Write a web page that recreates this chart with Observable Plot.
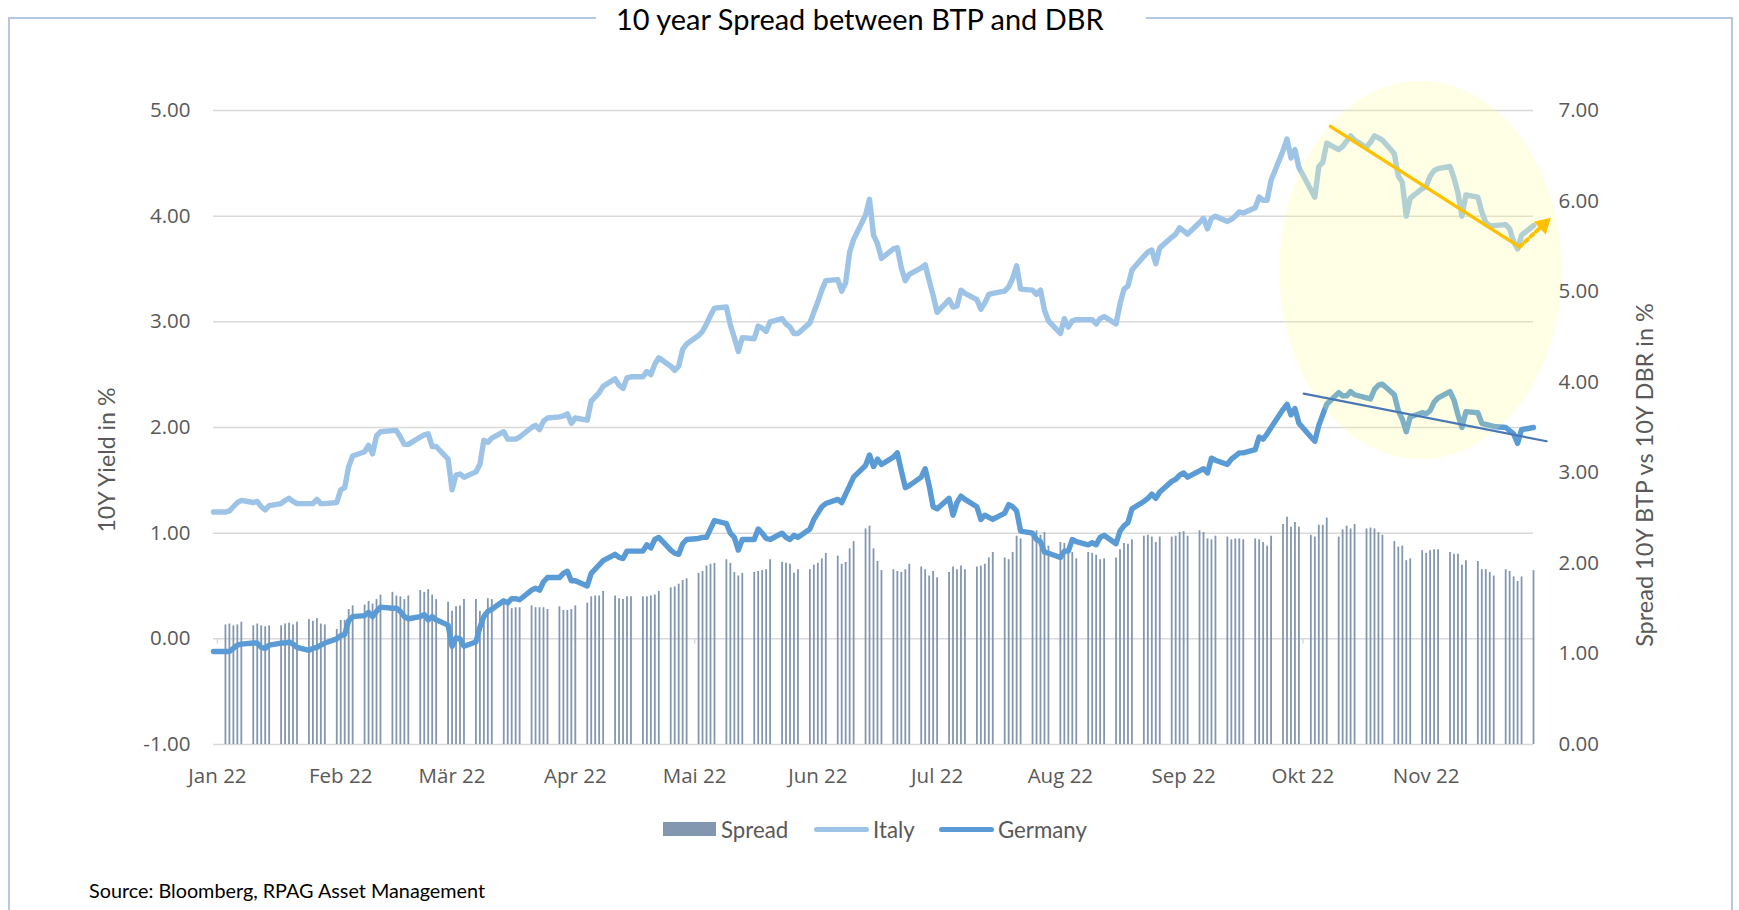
<!DOCTYPE html>
<html>
<head>
<meta charset="utf-8">
<script src="https://cdn.jsdelivr.net/npm/d3@7"></script>
<script src="https://cdn.jsdelivr.net/npm/@observablehq/plot@0.6"></script>
<style>
  html, body { margin: 0; padding: 0; background: #fff; }
  body { width: 1739px; height: 910px; overflow: hidden; position: relative; }
  #frame { position: absolute; left: 8px; top: 17px; width: 1725px; height: 1000px; border: 2px solid #b4c7e7; box-sizing: border-box; }
  #chart { position: absolute; left: 0; top: 0; }
  .txt { position: absolute; white-space: nowrap; font-family: Lato, "Open Sans", sans-serif; }
  #title { color: #000; background: #fff; line-height: 38px; }
  .axt { color: #595959; transform-origin: center center; }
  .leg { color: #595959; }
  .sw { position: absolute; }
</style>
</head>
<body>
<div id="frame"></div>
<div id="chart"></div>
<div id="title" class="txt">10 year Spread between BTP and DBR</div>
<div id="ylabL" class="txt axt">10Y Yield in %</div>
<div id="ylabR" class="txt axt">Spread 10Y BTP vs 10Y DBR in %</div>
<div id="legend"></div>
<div id="source" class="txt">Source: Bloomberg, RPAG Asset Management</div>
<script>
// ---------- data ----------
const monthTicks = ["2022-01-01","2022-02-01","2022-03-01","2022-04-01","2022-05-01","2022-06-01",
                    "2022-07-01","2022-08-01","2022-09-01","2022-10-01","2022-11-01"];
const monthLabels = ["Jan 22","Feb 22","Mär 22","Apr 22","Mai 22","Jun 22","Jul 22","Aug 22","Sep 22","Okt 22","Nov 22"];
const leftTicks = [-1, 0, 1, 2, 3, 4, 5];
const rightTicks = [0, 1, 2, 3, 4, 5, 6, 7];
const seriesNames = ["Spread", "Italy", "Germany"];

// first line point (before the first trading day of bars)
const lineStartDate = "2021-12-31";
const tradingStart = "2022-01-03";
const tradingEnd = "2022-11-28";

// 10Y BTP yield (Italy): 2021-12-31, then every weekday 2022-01-03 .. 2022-11-28
const italy = [1.20,
 1.20,1.21,1.25,1.29,1.31, 1.29,1.30,1.25,1.22,1.26, 1.28,1.31,1.33,1.30,1.28, 1.28,1.28,1.32,1.28,1.28,
 1.29,1.41,1.43,1.63,1.73, 1.77,1.83,1.75,1.92,1.96, 1.97,1.97,1.91,1.84,1.84, 1.91,1.93,1.94,1.82,1.82,
 1.70,1.41,1.55,1.56,1.53, 1.58,1.65,1.88,1.86,1.90, 1.96,1.89,1.89,1.89,1.91, 2.00,2.02,1.98,2.06,2.09,
 2.10,2.11,2.13,2.04,2.09, 2.07,2.25,2.29,2.33,2.39, 2.46,2.40,2.37,2.47,2.48, 2.48,2.53,2.50,2.60,2.66,
 2.58,2.54,2.58,2.74,2.79, 2.87,2.91,2.98,3.06,3.13, 3.14,2.97,2.85,2.72,2.85, 2.84,2.96,2.94,2.91,3.00,
 3.03,2.98,2.95,2.89,2.89, 2.99,3.09,3.19,3.30,3.39, 3.40,3.29,3.37,3.66,3.78, 4.01,4.16,3.82,3.74,3.60,
 3.69,3.70,3.51,3.39,3.45, 3.51,3.54,3.39,3.25,3.09, 3.21,3.14,3.15,3.30,3.27, 3.21,3.12,3.18,3.26,3.27,
 3.29,3.33,3.41,3.53,3.31, 3.30,3.26,3.30,3.11,3.01, 2.89,3.03,2.95,3.01,3.02, 3.02,3.02,2.98,3.03,3.05,
 2.98,3.17,3.31,3.34,3.49, 3.62,3.66,3.68,3.55,3.70, 3.80,3.83,3.89,3.86,3.83, 3.94,3.98,3.88,3.98,4.00,
 3.95,3.97,4.00,4.04,4.03, 4.08,4.18,4.15,4.15,4.34, 4.62,4.73,4.55,4.63,4.46, 4.25,4.18,4.47,4.51,4.69,
 4.63,4.66,4.71,4.76,4.72, 4.65,4.70,4.76,4.74,4.72, 4.59,4.38,4.32,4.00,4.17, 4.26,4.28,4.38,4.43,4.45,
 4.47,4.36,4.22,4.00,4.20, 4.18,4.04,3.94,3.91,3.91, 3.92,3.88,3.76,3.69,3.82,
 3.91];

// 10Y Bund yield (Germany), same dates as italy
const germany = [-0.12,
 -0.12,-0.12,-0.09,-0.06,-0.05, -0.04,-0.04,-0.08,-0.09,-0.06, -0.04,-0.04,-0.03,-0.05,-0.08, -0.11,-0.09,-0.08,-0.06,-0.04,
 0.00,0.03,0.04,0.17,0.21, 0.22,0.25,0.21,0.26,0.30, 0.29,0.29,0.26,0.21,0.19, 0.21,0.23,0.18,0.21,0.18,
 0.13,-0.07,0.01,0.00,-0.07, -0.03,0.11,0.21,0.26,0.28, 0.36,0.34,0.38,0.38,0.37, 0.46,0.48,0.46,0.54,0.58,
 0.58,0.62,0.64,0.55,0.55, 0.50,0.62,0.66,0.70,0.74, 0.80,0.77,0.76,0.83,0.83, 0.83,0.89,0.86,0.94,0.96,
 0.84,0.81,0.80,0.90,0.94, 0.95,0.96,0.96,1.04,1.12, 1.09,1.00,0.96,0.84,0.94, 0.94,1.04,1.00,0.95,0.94,
 1.00,0.96,0.94,0.98,0.96, 1.04,1.13,1.19,1.25,1.28, 1.32,1.29,1.37,1.45,1.53, 1.64,1.74,1.63,1.70,1.65,
 1.72,1.76,1.59,1.43,1.45, 1.53,1.61,1.45,1.25,1.23, 1.33,1.17,1.29,1.35,1.32, 1.25,1.13,1.17,1.15,1.13,
 1.19,1.27,1.25,1.21,1.02, 1.00,0.94,0.92,0.82,0.81, 0.77,0.83,0.83,0.94,0.92, 0.89,0.91,0.89,0.96,0.98,
 0.90,1.02,1.07,1.10,1.23, 1.30,1.33,1.37,1.33,1.39, 1.49,1.51,1.55,1.57,1.53, 1.59,1.61,1.57,1.71,1.69,
 1.65,1.70,1.73,1.76,1.76, 1.79,1.91,1.89,1.94,2.00, 2.17,2.22,2.12,2.18,2.04, 1.91,1.87,2.02,2.12,2.22,
 2.33,2.30,2.30,2.34,2.31, 2.28,2.27,2.36,2.40,2.41, 2.31,2.16,2.08,1.96,2.10, 2.14,2.13,2.16,2.24,2.28,
 2.34,2.26,2.12,2.00,2.15, 2.14,2.04,2.03,2.02,2.01, 2.00,1.97,1.94,1.85,1.98,
 2.00];

// Spread BTP - Bund (right axis), every weekday 2022-01-03 .. 2022-11-28
const spread = [
 1.32,1.33,1.31,1.32,1.35, 1.31,1.33,1.31,1.30,1.31, 1.31,1.33,1.34,1.32,1.35, 1.38,1.36,1.39,1.33,1.32,
 1.27,1.37,1.37,1.49,1.53, 1.54,1.58,1.55,1.60,1.65, 1.68,1.64,1.63,1.60,1.64, 1.70,1.68,1.71,1.65,1.60,
 1.57,1.47,1.52,1.53,1.60, 1.60,1.47,1.45,1.61,1.60, 1.60,1.56,1.50,1.51,1.51, 1.53,1.51,1.51,1.51,1.49,
 1.52,1.48,1.48,1.49,1.53, 1.56,1.63,1.64,1.64,1.69, 1.64,1.61,1.60,1.63,1.63, 1.63,1.63,1.64,1.65,1.69,
 1.73,1.74,1.77,1.81,1.83, 1.89,1.91,1.97,1.99,2.00, 2.04,2.00,1.90,1.86,1.89, 1.90,1.91,1.92,1.93,2.04,
 2.01,2.00,1.99,1.89,1.93, 1.93,1.98,2.00,2.05,2.11, 2.08,1.99,2.01,2.16,2.24, 2.38,2.41,2.16,2.02,1.92,
 1.93,1.91,1.90,1.93,1.99, 1.96,1.93,1.86,1.91,1.84, 1.90,1.96,1.93,1.97,1.93, 1.96,1.97,1.99,2.06,2.12,
 2.06,2.04,2.12,2.30,2.27, 2.34,2.36,2.31,2.34,2.19, 2.23,2.22,2.19,2.12,2.05, 2.12,2.11,2.09,2.04,2.05,
 2.06,2.15,2.22,2.21,2.26, 2.30,2.31,2.29,2.23,2.29, 2.29,2.30,2.34,2.35,2.30, 2.36,2.34,2.27,2.26,2.30,
 2.29,2.26,2.27,2.27,2.26, 2.27,2.26,2.23,2.19,2.30, 2.43,2.51,2.40,2.45,2.40, 2.31,2.29,2.42,2.42,2.50,
 2.29,2.37,2.41,2.38,2.43, 2.38,2.39,2.38,2.34,2.31, 2.24,2.18,2.19,2.03,2.05, 2.14,2.11,2.14,2.15,2.15,
 2.12,2.10,2.10,1.98,2.03, 2.02,1.93,1.93,1.90,1.86, 1.93,1.91,1.85,1.80,1.85,
 1.92];

// annotations (in data coordinates)
const focusCenter = {date: "2022-10-30T14:00:00Z", value: 3.49};
const focusRadiusDays = 35.5, focusRadiusValue = 1.79;
const btpTrend = [{date: "2022-10-07T22:00:00Z", value: 4.85}, {date: "2022-11-24T12:00:00Z", value: 3.71}];
const btpRebound = [{date: "2022-11-24T12:00:00Z", value: 3.71}, {date: "2022-11-30T12:00:00Z", value: 3.92}];
const bundTrend = [{date: "2022-10-01T05:00:00Z", value: 2.32}, {date: "2022-12-01T07:00:00Z", value: 1.87}];

// ---------- build ----------
const colors = {Spread: "#8497b0", Italy: "#9dc3e6", Germany: "#5b9bd5"};
const toLeft = v => v * 6 / 7 - 1;  // right axis (0..7) onto left axis (-1..5)

const tradingDays = d3.utcDay.range(new Date(tradingStart), d3.utcDay.offset(new Date(tradingEnd), 1))
  .filter(d => d.getUTCDay() !== 0 && d.getUTCDay() !== 6);
const lineDates = [new Date(lineStartDate), ...tradingDays];
const italyRows = lineDates.map((d, i) => ({date: d, value: italy[i]}));
const germanyRows = lineDates.map((d, i) => ({date: d, value: germany[i]}));
const spreadRows = tradingDays.map((d, i) => ({date: d, value: spread[i]}));
const tickDates = monthTicks.map(s => new Date(s));
const labelOf = new Map(tickDates.map((d, i) => [+d, monthLabels[i]]));

const c0 = new Date(focusCenter.date).getTime();
const ellipse = d3.range(0, 361, 4).map(a => {
  const t = a * Math.PI / 180;
  return {date: new Date(c0 + Math.cos(t) * focusRadiusDays * 864e5), value: focusCenter.value + Math.sin(t) * focusRadiusValue};
});
const asDates = arr => arr.map(p => ({date: new Date(p.date), value: p.value}));

const W = 1739, H = 800;
const plot = Plot.plot({
  width: W, height: H,
  marginLeft: 213, marginRight: 206, marginTop: 110, marginBottom: H - 744,
  style: {fontFamily: "'Open Sans', sans-serif", fontSize: "20.5px", color: "#595959", background: "transparent", overflow: "visible"},
  x: {type: "utc", domain: [new Date("2021-12-31"), new Date("2022-11-28")]},
  y: {domain: [-1, 5]},
  marks: [
    Plot.ruleY(leftTicks, {stroke: "#d9d9d9", strokeWidth: 1.5}),
    Plot.ruleX(tickDates, {x: d => d, y1: 0, y2: -0.05, stroke: "#d9d9d9", strokeWidth: 1.5}),
    Plot.ruleX(spreadRows, {x: "date", y1: -1, y2: d => toLeft(d.value), stroke: colors.Spread, strokeWidth: 1.8}),
    Plot.line(italyRows, {x: "date", y: "value", stroke: colors.Italy, strokeWidth: 5.4, strokeLinejoin: "round", strokeLinecap: "round"}),
    Plot.line(germanyRows, {x: "date", y: "value", stroke: colors.Germany, strokeWidth: 5.4, strokeLinejoin: "round", strokeLinecap: "round"}),
    Plot.line(ellipse, {x: "date", y: "value", fill: "#ffff8c", fillOpacity: 0.22, stroke: "none"}),
    Plot.line(asDates(btpTrend), {x: "date", y: "value", stroke: "#ffc000", strokeWidth: 3.4}),
    Plot.line(asDates(btpRebound), {x: "date", y: "value", stroke: "#ffc000", strokeWidth: 4, strokeDasharray: "3.5,4"}),
    Plot.dot(asDates(btpRebound).slice(1), {x: "date", y: "value", symbol: "triangle", r: 6.5, fill: "#ffc000", stroke: "none", rotate: 47}),
    Plot.line(asDates(bundTrend), {x: "date", y: "value", stroke: "#4a78b5", strokeWidth: 2.2}),
    Plot.axisX({ticks: tickDates, tickFormat: d => labelOf.get(+d), tickSize: 0, tickPadding: 24, fontSize: 20.5, fill: "#595959", label: null}),
    Plot.axisY({anchor: "left", ticks: leftTicks, tickFormat: d => d.toFixed(2), tickSize: 0, tickPadding: 23, fontSize: 20.5, fill: "#595959", label: null}),
    Plot.axisY({anchor: "right", ticks: rightTicks.map(toLeft), tickFormat: d => ((d + 1) * 7 / 6).toFixed(2), tickSize: 0, tickPadding: 25, fontSize: 20.5, fill: "#595959", label: null})
  ]
});
document.getElementById("chart").appendChild(plot);

// ---------- text layout helpers ----------
function fitWidth(el, w) {
  el.style.fontSize = "20px";
  const cur = el.offsetWidth;
  el.style.fontSize = (20 * w / cur) + "px";
}
function place(el, cx, cy, rotate) {
  const w = el.offsetWidth, h = el.offsetHeight;
  el.style.left = (cx - w / 2) + "px";
  el.style.top = (cy - h / 2) + "px";
  if (rotate) el.style.transform = "rotate(-90deg)";
}

const title = document.getElementById("title");
fitWidth(title, 488);
title.style.paddingLeft = "20px";
title.style.paddingRight = "42px";
title.style.left = "596px";
title.style.top = "0px";

const yl = document.getElementById("ylabL");
fitWidth(yl, 145); place(yl, 105, 460, true);
const yr = document.getElementById("ylabR");
fitWidth(yr, 344); place(yr, 1644, 475, true);

const src = document.getElementById("source");
fitWidth(src, 396);
src.style.left = "89px";
src.style.top = (890 - src.offsetHeight / 2) + "px";

// legend
const legend = document.getElementById("legend");
const legendItems = [
  {name: seriesNames[0], kind: "rect", x0: 663, x1: 716, tx: 721, tw: 66},
  {name: seriesNames[1], kind: "line", x0: 814, x1: 869, tx: 873, tw: 41},
  {name: seriesNames[2], kind: "line", x0: 939, x1: 994, tx: 998, tw: 89}
];
const legY = 829;
let legFont = null;
legendItems.forEach(it => {
  const sw = document.createElement("div");
  sw.className = "sw";
  sw.style.left = it.x0 + "px";
  sw.style.width = (it.x1 - it.x0) + "px";
  sw.style.background = colors[it.name];
  if (it.kind === "rect") { sw.style.height = "14px"; sw.style.top = (legY - 7) + "px"; }
  else { sw.style.height = "5px"; sw.style.top = (legY - 2.5) + "px"; sw.style.borderRadius = "3px"; }
  legend.appendChild(sw);
  const t = document.createElement("div");
  t.className = "txt leg";
  t.textContent = it.name;
  legend.appendChild(t);
  it.el = t;
});
// common legend font size from the longest label
fitWidth(legendItems[2].el, legendItems[2].tw);
legFont = legendItems[2].el.style.fontSize;
legendItems.forEach(it => {
  it.el.style.fontSize = legFont;
  it.el.style.left = it.tx + "px";
  it.el.style.top = (legY - it.el.offsetHeight / 2) + "px";
});
</script>
</body>
</html>
